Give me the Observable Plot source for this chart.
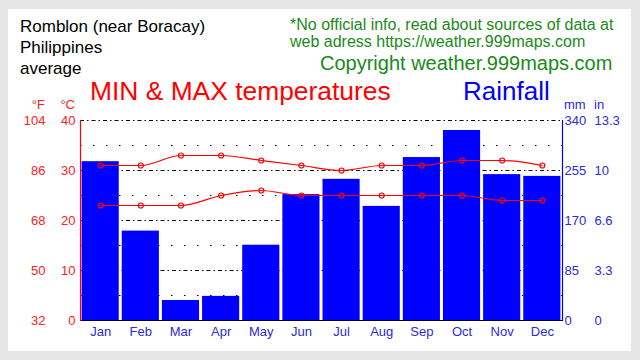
<!DOCTYPE html>
<html>
<head>
<meta charset="utf-8">
<script src="https://cdn.jsdelivr.net/npm/d3@7"></script>
<script src="https://cdn.jsdelivr.net/npm/@observablehq/plot@0.6"></script>
<style>
  html, body { margin: 0; padding: 0; background: #e6e6e6; }
  #wrap { position: relative; width: 640px; height: 360px; overflow: hidden; font-family: "Liberation Sans", Arial, sans-serif; }
  #panel { position: absolute; left: 8px; top: 9px; width: 623px; height: 342px; background: #fff; }
  #chart { position: absolute; left: 0; top: 0; }
  .t { position: absolute; white-space: nowrap; }
</style>
</head>
<body>
<div id="wrap">
  <div id="panel"></div>
  <div id="chart"></div>
  <div class="t" style="left:20px;top:16px;font-size:17px;line-height:21px;color:#000;">Romblon (near Boracay)<br>Philippines<br>average</div>
  <div class="t" style="left:290px;top:16px;font-size:16px;line-height:17px;color:#1a8a1a;">*No official info, read about sources of data at<br>web adress https://weather.999maps.com</div>
  <div class="t" style="left:320px;top:53px;font-size:20px;line-height:20px;color:#1a8a1a;">Copyright weather.999maps.com</div>
  <div class="t" style="left:90px;top:78px;font-size:26.4px;line-height:26px;color:#ff0000;">MIN &amp; MAX temperatures</div>
  <div class="t" style="left:463px;top:78px;font-size:26px;line-height:26px;color:#0000ff;">Rainfall</div>
  <div class="t" style="right:595px;top:98px;font-size:13px;line-height:13px;color:#ff2020;">°F</div>
  <div class="t" style="right:565px;top:98px;font-size:13px;line-height:13px;color:#ff2020;">°C</div>
  <div class="t" style="left:564px;top:98px;font-size:13px;line-height:13px;color:#2a2ae0;">mm</div>
  <div class="t" style="left:594px;top:98px;font-size:13px;line-height:13px;color:#2a2ae0;">in</div>
</div>
<script>
const months = ["Jan","Feb","Mar","Apr","May","Jun","Jul","Aug","Sep","Oct","Nov","Dec"];
const rainMm = [270, 152, 34, 41, 128, 214, 240, 194, 277, 323, 248, 245];
const maxC = [31, 31, 33, 33, 32, 31, 30, 31, 31, 32, 32, 31];
const minC = [23, 23, 23, 25, 26, 25, 25, 25, 25, 25, 24, 24];

const cTicks = [0, 10, 20, 30, 40];
const fLabels = ["32", "50", "68", "86", "104"];
const mmLabels = ["0", "85", "170", "255", "340"];
const inLabels = ["0", "3.3", "6.6", "10", "13.3"];
const majorGrid = [10, 20, 30, 40];
const minorGrid = [5, 15, 25, 35];
const mmPerC = 340 / 40;

const rows = months.map((m, i) => ({month: m, rain: rainMm[i] / mmPerC, max: maxC[i], min: minC[i]}));

const red = "#ff0000";
const blueTxt = "#2a2ae0";

const chart = Plot.plot({
  width: 640,
  height: 360,
  marginLeft: 80,
  marginRight: 78,
  marginTop: 120,
  marginBottom: 40,
  style: {background: "transparent", fontFamily: "Liberation Sans, Arial, sans-serif", fontSize: "13px"},
  x: {type: "band", domain: months, paddingInner: 0.075, paddingOuter: 0.04, round: false, axis: null},
  y: {domain: [0, 40], axis: null},
  marks: [
    Plot.ruleY(minorGrid, {stroke: "#000", strokeDasharray: "1.5,11.5", strokeWidth: 1.2}),
    Plot.ruleY(majorGrid, {stroke: "#000", strokeDasharray: "4,3,1.5,3", strokeWidth: 1.2}),
    Plot.barY(rows, {x: "month", y: "rain", fill: "#0000ff"}),
    Plot.ruleY([0], {stroke: "#000", strokeWidth: 1.2}),
    Plot.frame({anchor: "left", stroke: red, strokeWidth: 1.2}),
    Plot.frame({anchor: "right", stroke: "#0000ff", strokeWidth: 1.2}),
    Plot.line(rows, {x: "month", y: "max", stroke: red, strokeWidth: 1.2, curve: "monotone-x"}),
    Plot.line(rows, {x: "month", y: "min", stroke: red, strokeWidth: 1.2, curve: "monotone-x"}),
    Plot.dot(rows, {x: "month", y: "max", r: 2.5, stroke: red, strokeWidth: 1.2, fill: "none"}),
    Plot.dot(rows, {x: "month", y: "min", r: 2.5, stroke: red, strokeWidth: 1.2, fill: "none"}),
    Plot.axisY({anchor: "left", ticks: cTicks, tickSize: 0, tickPadding: 5, color: "#ff2020", fontSize: 13, label: null}),
    Plot.axisY({anchor: "left", ticks: cTicks, tickSize: 0, tickPadding: 35, color: "#ff2020", fontSize: 13, label: null, tickFormat: d => fLabels[cTicks.indexOf(d)]}),
    Plot.axisY({anchor: "right", ticks: cTicks, tickSize: 0, tickPadding: 2, color: blueTxt, fontSize: 13, label: null, tickFormat: d => mmLabels[cTicks.indexOf(d)]}),
    Plot.axisY({anchor: "right", ticks: cTicks, tickSize: 0, tickPadding: 32, color: blueTxt, fontSize: 13, label: null, tickFormat: d => inLabels[cTicks.indexOf(d)]}),
    Plot.axisX({anchor: "bottom", tickSize: 0, tickPadding: 6, color: blueTxt, fontSize: 13, label: null})
  ]
});
document.getElementById("chart").appendChild(chart);
</script>
</body>
</html>
